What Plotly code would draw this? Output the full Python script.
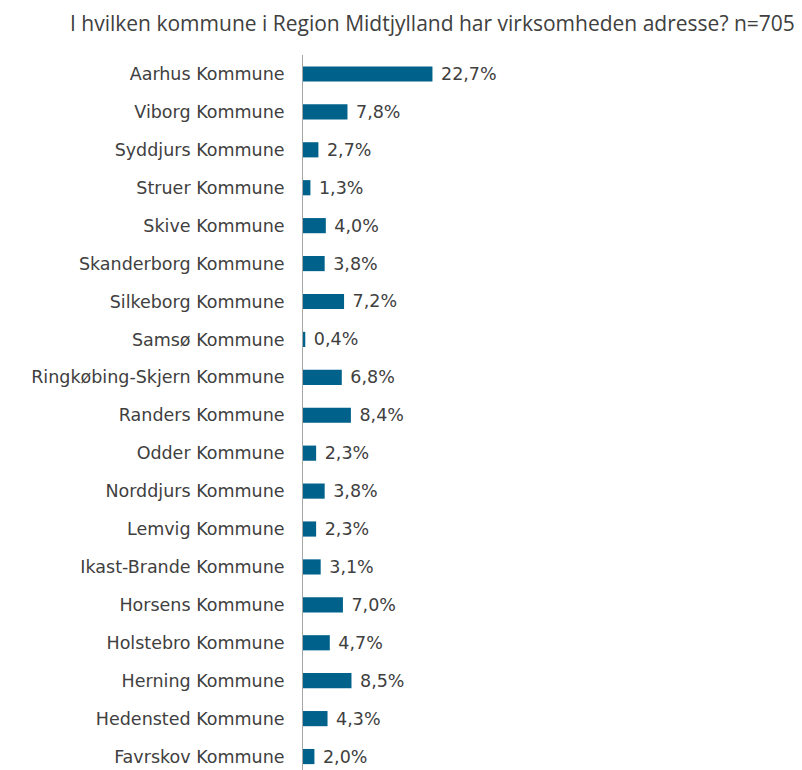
import plotly.graph_objects as go

# data, top to bottom as in the chart
kommuner = [
    "Aarhus Kommune", "Viborg Kommune", "Syddjurs Kommune", "Struer Kommune",
    "Skive Kommune", "Skanderborg Kommune", "Silkeborg Kommune", "Samsø Kommune",
    "Ringkøbing-Skjern Kommune", "Randers Kommune", "Odder Kommune",
    "Norddjurs Kommune", "Lemvig Kommune", "Ikast-Brande Kommune",
    "Horsens Kommune", "Holstebro Kommune", "Herning Kommune",
    "Hedensted Kommune", "Favrskov Kommune",
]
andel = [22.7, 7.8, 2.7, 1.3, 4.0, 3.8, 7.2, 0.4, 6.8, 8.4, 2.3,
         3.8, 2.3, 3.1, 7.0, 4.7, 8.5, 4.3, 2.0]

titel = "I hvilken kommune i Region Midtjylland har virksomheden adresse? n=705"

tekst_farve = "#404040"
bar_farve = "#00618A"

# the page puts the figure 8px in from the top-left corner, so the figure is 8px smaller
W, H = 794, 762

fig = go.Figure(go.Bar(
    x=andel[::-1],
    y=kommuner[::-1],
    orientation="h",
    marker=dict(color=bar_farve, line=dict(width=0)),
    texttemplate=" %{x:.1f}%",
    textposition="outside",
    constraintext="none",
    cliponaxis=False,
    textfont=dict(family="DejaVu Sans", size=17.5, color=tekst_farve),
))

fig.update_layout(
    width=W,
    height=H,
    margin=dict(l=295, r=0, t=47, b=0, pad=0),
    paper_bgcolor="white",
    plot_bgcolor="white",
    separators=",.",
    bargap=0.6,
    showlegend=False,
    font=dict(family="DejaVu Sans", size=17.5, color=tekst_farve),
)

# title as a right-aligned annotation
fig.add_annotation(
    text=titel,
    font=dict(family="Open Sans", size=21, color=tekst_farve),
    xref="paper", yref="paper",
    x=(789 - 295) / (W - 295), xanchor="right",
    y=1 + 32 / (H - 47), yanchor="middle",
    showarrow=False,
)

fig.update_xaxes(range=[0, 87.5], visible=False, showgrid=False)
fig.update_yaxes(
    range=[-0.355, 18.5],
    showline=True, linecolor="#A6A6A6", linewidth=1,
    ticks="", ticklabelstandoff=14,
    showgrid=False, zeroline=False,
)

fig.write_html("out.html")
